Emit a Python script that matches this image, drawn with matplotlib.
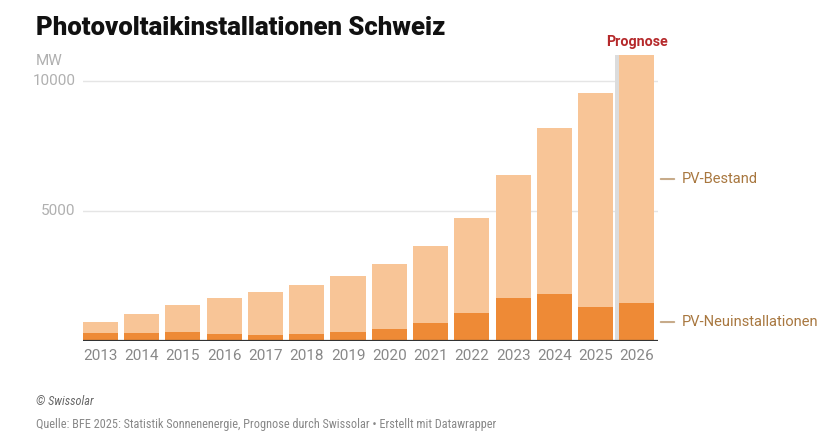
import matplotlib.pyplot as plt
import numpy as np

years = ["2013", "2014", "2015", "2016", "2017", "2018", "2019",
         "2020", "2021", "2022", "2023", "2024", "2025", "2026"]
bestand = [740, 1050, 1370, 1640, 1890, 2150, 2500,
           2970, 3650, 4730, 6380, 8180, 9540, 11000]
neu = [300, 305, 333, 270, 242, 271, 332,
       475, 683, 1081, 1641, 1798, 1310, 1480]
yticks = [5000, 10000]

LIGHT = "#f8c597"
DARK = "#ee8a36"
LABEL_C = "#a8773f"
NARROW = ['Roboto Condensed', 'Liberation Sans Narrow', 'DejaVu Sans']

plt.rcParams['font.family'] = ['Roboto', 'DejaVu Sans']

fig = plt.figure(figsize=(8.4, 4.4), dpi=100)
ax = fig.add_axes([83 / 840, 1 - 341 / 440, (658 - 83) / 840, (341 - 47.2) / 440])

x = np.arange(len(years))
w = 0.85

# prognosis highlight strip (left of the last bar)
last = len(years) - 1
ax.bar(last - w / 2 - 0.055, bestand[-1], width=0.11, color="#dcdcdc", zorder=1)

ax.bar(x, bestand, width=w, color=LIGHT, zorder=2)
ax.bar(x, neu, width=w, color=DARK, zorder=3)

ax.set_xlim(-0.42, 13.51)
ax.set_ylim(0, 11300)

for v in yticks:
    ax.axhline(v, color="#e5e5e5", lw=1, zorder=0)
ax.axhline(0, color="#333333", lw=1.6, zorder=4)

for s in ax.spines.values():
    s.set_visible(False)

ax.set_xticks(x)
ax.set_xticklabels(years, fontsize=11, color="#888888")
ax.set_yticks([])
ax.tick_params(axis="x", length=0, pad=6)

for v in yticks:
    ax.text(-0.6, v, str(v), ha="right", va="center", fontsize=11,
            color="#b0b0b0")
fig.text(36 / 840, 1 - 61 / 440, "MW", ha="left", va="center",
         fontsize=11, color="#b0b0b0")

ax.text(last, bestand[-1] + 500, "Prognose", ha="center", va="center",
        fontsize=10.3, fontweight="bold", color="#b5292b")

# right side labels
for val, lab in [(6230, "PV-Bestand"), (730, "PV-Neuinstallationen")]:
    ax.annotate("", xy=(1.0, val), xytext=(1.033, val),
                xycoords=("axes fraction", "data"),
                arrowprops=dict(arrowstyle="-", color="#c7ab8a", lw=1.5))
    ax.text(1.042, val, lab, transform=ax.get_yaxis_transform(),
            ha="left", va="center", fontsize=10.5, color=LABEL_C)

fig.text(36 / 840, 1 - 28 / 440, "Photovoltaikinstallationen Schweiz",
         ha="left", va="center", fontsize=18.5, fontweight=900,
         color="#111111")
fig.text(36 / 840, 1 - 401 / 440, "© Swissolar", ha="left", va="center",
         fontsize=8.8, style="italic", color="#666666", family=NARROW)
fig.text(36 / 840, 1 - 424 / 440,
         "Quelle: BFE 2025: Statistik Sonnenenergie, Prognose durch Swissolar \u2022 Erstellt mit Datawrapper",
         ha="left", va="center", fontsize=8.8, color="#888888", family=NARROW)

fig.savefig("out.png", dpi=100)
